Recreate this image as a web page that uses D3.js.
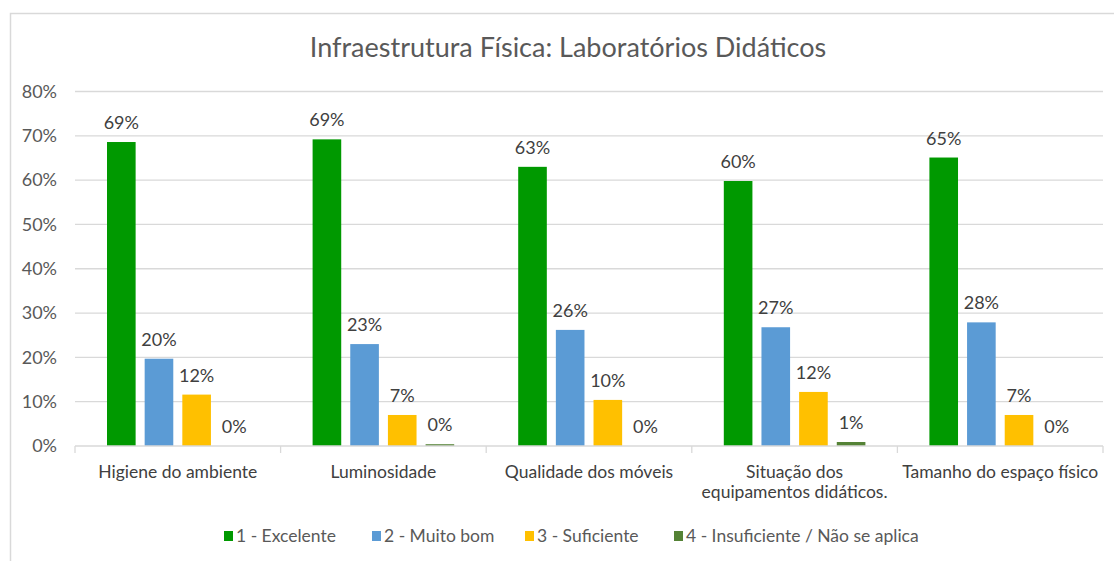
<!DOCTYPE html>
<html lang="pt">
<head>
  <meta charset="UTF-8">
  <title>Infraestrutura Física: Laboratórios Didáticos</title>
  <script src="https://d3js.org/d3.v7.min.js"></script>
  <style>
    body { margin: 0; background: #fff; font-family: "Lato", "Carlito", sans-serif; }
    .grid line { stroke: #d9d9d9; stroke-width: 1.3; }
    .y-axis text { fill: #595959; font-size: 18px; }
    .x-axis text { fill: #404040; font-size: 17.5px; }
    .value-label { fill: #404040; font-size: 18px; }
    .legend text { fill: #595959; font-size: 17.5px; }
  </style>
</head>
<body>
<svg id="chart" width="1114" height="561"></svg>
<script>
  // ——— data (percent) ———
  const categories = [
    "Higiene do ambiente",
    "Luminosidade",
    "Qualidade dos móveis",
    "Situação dos equipamentos didáticos.",
    "Tamanho do espaço físico"
  ];
  const seriesNames = [
    "1 - Excelente",
    "2 - Muito bom",
    "3 - Suficiente",
    "4 - Insuficiente / Não se aplica"
  ];
  const excelente    = [68.6, 69.2, 63.0, 59.8, 65.1];
  const muitoBom     = [19.7, 23.0, 26.2, 26.8, 27.9];
  const suficiente   = [11.6, 7.0, 10.4, 12.2, 7.0];
  const insuficiente = [0, 0.4, 0, 0.9, 0];
  const yTicks = [0, 10, 20, 30, 40, 50, 60, 70, 80];

  const colors = ["#009900", "#5b9bd5", "#ffc000", "#548235"];
  const seriesValues = [excelente, muitoBom, suficiente, insuficiente];

  const svg = d3.select("#chart");

  // chart frame
  svg.append("rect")
    .attr("x", 10.5).attr("y", 13.5)
    .attr("width", 1200).attr("height", 600)
    .attr("fill", "none")
    .attr("stroke", "#d9d9d9")
    .attr("stroke-width", 1.5);

  svg.append("text")
    .attr("x", 568).attr("y", 57)
    .attr("text-anchor", "middle")
    .attr("fill", "#595959")
    .attr("font-size", "27px")
    .text("Infraestrutura Física: Laboratórios Didáticos");

  const plot = { left: 75, right: 1103, top: 91.5, bottom: 446 };

  const x = d3.scaleBand()
    .domain(categories)
    .range([plot.left, plot.right])
    .padding(0);

  const xInner = d3.scaleBand()
    .domain(d3.range(seriesNames.length))
    .range([32, x.bandwidth() - 32])
    .paddingInner(0.24)
    .paddingOuter(0);

  const y = d3.scaleLinear()
    .domain([0, 80])
    .range([plot.bottom, plot.top]);

  // gridlines
  svg.append("g")
    .attr("class", "grid")
    .selectAll("line")
    .data(yTicks.filter(t => t > 0))
    .join("line")
    .attr("x1", plot.left).attr("x2", plot.right)
    .attr("y1", d => y(d)).attr("y2", d => y(d));

  // y axis labels
  const yAxis = svg.append("g")
    .attr("class", "y-axis")
    .attr("transform", `translate(${plot.left - 18},0)`)
    .call(d3.axisLeft(y).tickValues(yTicks).tickSize(0).tickPadding(0).tickFormat(d => d + "%"));
  yAxis.select(".domain").remove();
  yAxis.selectAll("text").attr("font-family", "Lato, sans-serif");

  // bars
  const groups = svg.append("g")
    .selectAll("g")
    .data(categories)
    .join("g")
    .attr("transform", d => `translate(${x(d)},0)`);

  groups.each(function(cat, ci) {
    const g = d3.select(this);
    seriesValues.forEach((vals, si) => {
      const v = vals[ci];
      g.append("rect")
        .attr("x", xInner(si))
        .attr("y", y(v))
        .attr("width", xInner.bandwidth())
        .attr("height", y(0) - y(v))
        .attr("fill", colors[si]);
      g.append("text")
        .attr("class", "value-label")
        .attr("x", xInner(si) + xInner.bandwidth() / 2)
        .attr("y", y(v) - 13)
        .attr("text-anchor", "middle")
        .text(Math.round(v) + "%");
    });
  });

  // x axis: baseline + boundary ticks
  const xAxis = svg.append("g").attr("class", "x-axis");
  xAxis.append("line")
    .attr("x1", plot.left).attr("x2", plot.right)
    .attr("y1", plot.bottom).attr("y2", plot.bottom)
    .attr("stroke", "#d9d9d9").attr("stroke-width", 1.3);
  xAxis.selectAll("line.sep")
    .data(categories.map(c => x(c)).concat([plot.right]))
    .join("line")
    .attr("class", "sep")
    .attr("x1", d => d).attr("x2", d => d)
    .attr("y1", plot.bottom).attr("y2", plot.bottom + 7)
    .attr("stroke", "#d9d9d9").attr("stroke-width", 1.3);

  // category labels (wrap the long one)
  const catLines = {
    "Situação dos equipamentos didáticos.": ["Situação dos", "equipamentos didáticos."]
  };
  xAxis.selectAll("text.cat")
    .data(categories)
    .join("text")
    .attr("class", "cat")
    .attr("text-anchor", "middle")
    .attr("y", 478)
    .each(function(d) {
      const lines = catLines[d] || [d];
      const t = d3.select(this);
      lines.forEach((ln, i) => {
        t.append("tspan")
          .attr("x", x(d) + x.bandwidth() / 2)
          .attr("dy", i === 0 ? 0 : 20)
          .text(ln);
      });
    });

  // legend
  const legendX = [224, 372, 525, 674];
  const legend = svg.append("g").attr("class", "legend");
  seriesNames.forEach((name, i) => {
    legend.append("rect")
      .attr("x", legendX[i]).attr("y", 531)
      .attr("width", 9).attr("height", 10)
      .attr("fill", colors[i]);
    legend.append("text")
      .attr("x", legendX[i] + 12).attr("y", 542)
      .text(name);
  });
</script>
</body>
</html>
